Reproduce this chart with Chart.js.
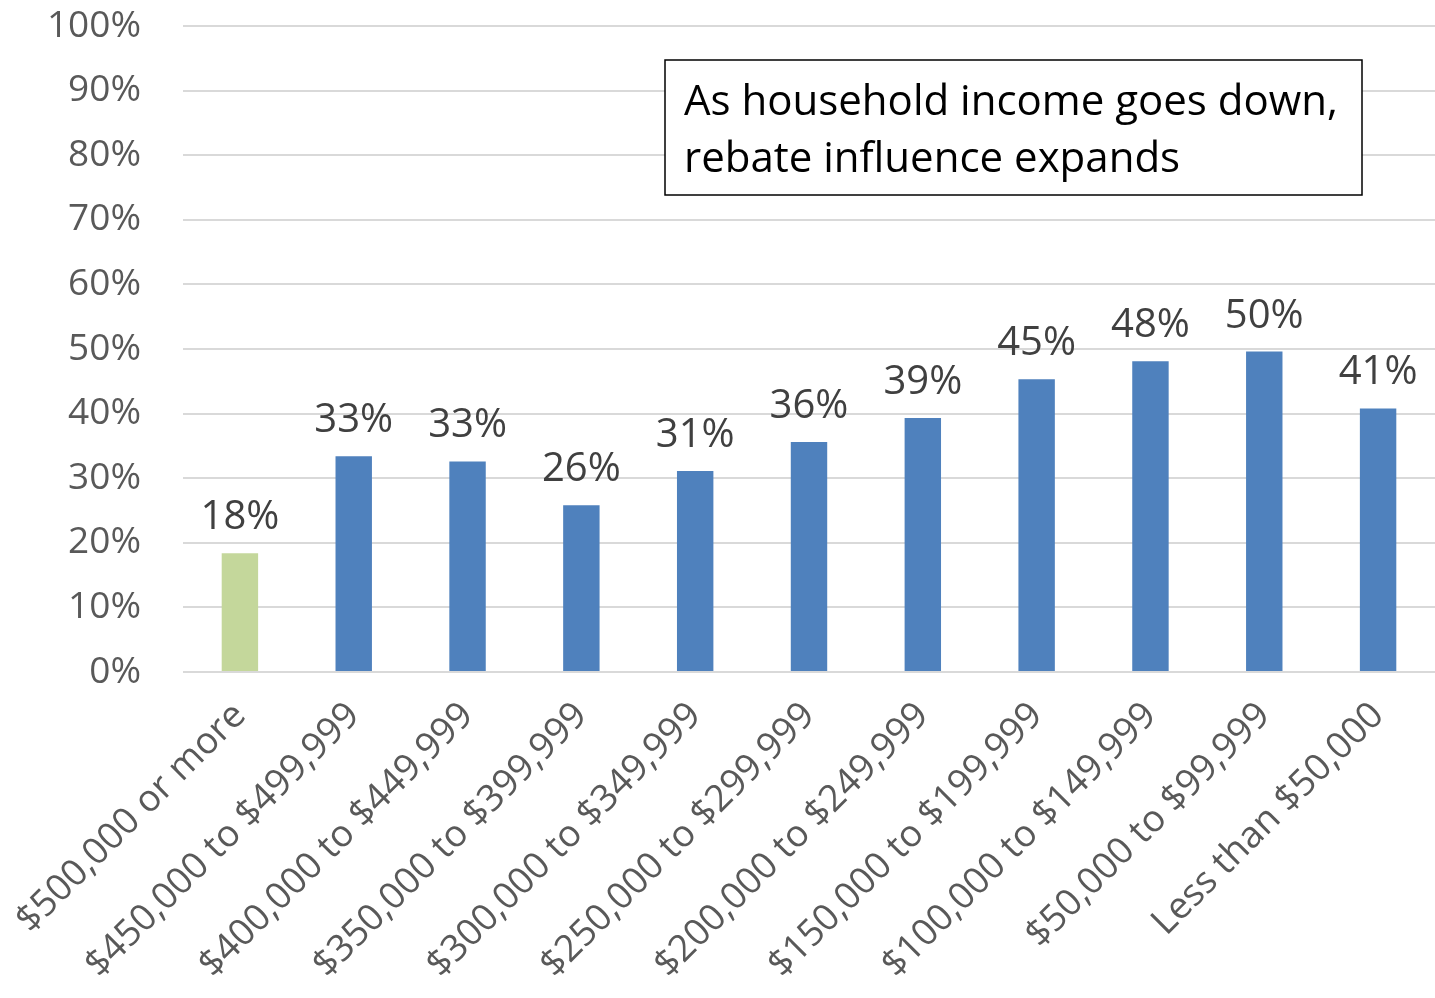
<!DOCTYPE html>
<html>
<head>
<meta charset="utf-8">
<script src="https://cdn.jsdelivr.net/npm/chart.js@4/dist/chart.umd.min.js"></script>
<style>
  html, body { margin: 0; padding: 0; background: #fff; }
  #wrap { width: 1435px; height: 998px; }
</style>
</head>
<body>
<div id="wrap"><canvas id="incomeChart" width="1435" height="998"></canvas></div>
<script>
const incomeLabels = [
  '$500,000 or more',
  '$450,000 to $499,999',
  '$400,000 to $449,999',
  '$350,000 to $399,999',
  '$300,000 to $349,999',
  '$250,000 to $299,999',
  '$200,000 to $249,999',
  '$150,000 to $199,999',
  '$100,000 to $149,999',
  '$50,000 to $99,999',
  'Less than $50,000'
];
const rebateShare = [18.4, 33.4, 32.6, 25.8, 31.1, 35.6, 39.3, 45.3, 48.1, 49.6, 40.8];
const barColors = [
  '#C4D79B', '#4F81BD', '#4F81BD', '#4F81BD', '#4F81BD', '#4F81BD',
  '#4F81BD', '#4F81BD', '#4F81BD', '#4F81BD', '#4F81BD'
];
const noteLines = ['As household income goes down,', 'rebate influence expands'];

const fontFamily = '"Open Sans", "Noto Sans", sans-serif';

// value labels above each bar
const barValueLabels = {
  id: 'barValueLabels',
  afterDatasetsDraw(chart) {
    const ctx = chart.ctx;
    const meta = chart.getDatasetMeta(0);
    ctx.save();
    ctx.font = '40px ' + fontFamily;
    ctx.fillStyle = '#404040';
    ctx.textAlign = 'center';
    ctx.textBaseline = 'alphabetic';
    meta.data.forEach((bar, i) => {
      ctx.fillText(Math.round(rebateShare[i]) + '%', bar.x, bar.y - 24);
    });
    ctx.restore();
  }
};

// boxed note in the upper right
const noteBox = {
  id: 'noteBox',
  afterDraw(chart) {
    const ctx = chart.ctx;
    ctx.save();
    ctx.fillStyle = '#fff';
    ctx.fillRect(665, 60, 697, 135);
    ctx.strokeStyle = '#000';
    ctx.lineWidth = 1.5;
    ctx.strokeRect(665, 60, 697, 135);
    ctx.fillStyle = '#000';
    ctx.font = '42px ' + fontFamily;
    ctx.textAlign = 'left';
    ctx.textBaseline = 'alphabetic';
    ctx.fillText(noteLines[0], 684, 115);
    ctx.fillText(noteLines[1], 684, 172);
    ctx.restore();
  }
};

new Chart(document.getElementById('incomeChart'), {
  type: 'bar',
  data: {
    labels: incomeLabels,
    datasets: [{
      data: rebateShare,
      backgroundColor: barColors,
      barPercentage: 0.32,
      categoryPercentage: 1
    }]
  },
  options: {
    responsive: false,
    animation: false,
    layout: { padding: { top: 26, right: 0, left: 0, bottom: 0 } },
    plugins: {
      legend: { display: false },
      tooltip: { enabled: false }
    },
    scales: {
      x: {
        grid: { display: false },
        border: { display: false },
        ticks: {
          color: '#595959',
          font: { family: fontFamily, size: 37 },
          maxRotation: 45,
          minRotation: 45,
          autoSkip: false,
          padding: 14
        },
        afterFit(scale) {
          scale.height = 326;
          scale.paddingTop = 0;
        }
      },
      y: {
        min: 0,
        max: 100,
        grid: { color: '#D9D9D9', lineWidth: 2, drawTicks: false },
        border: { display: false },
        ticks: {
          stepSize: 10,
          color: '#595959',
          font: { family: fontFamily, size: 37 },
          padding: 42,
          callback: v => v + '%'
        },
        afterFit(scale) {
          scale.width = 183;
          scale.paddingTop = 0;
        }
      }
    }
  },
  plugins: [barValueLabels, noteBox]
});
</script>
</body>
</html>
